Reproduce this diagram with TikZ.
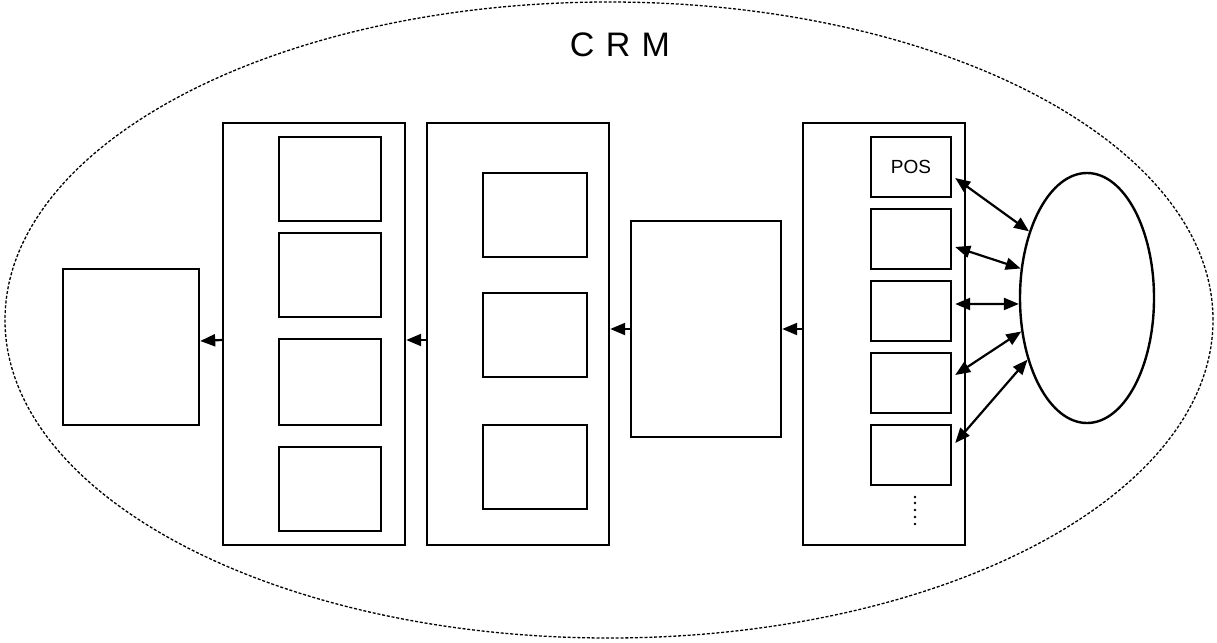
\documentclass[tikz,border=0pt]{standalone}
\usepackage{fontspec}
\setmainfont{Liberation Sans}
\usetikzlibrary{shapes.geometric,arrows.meta,calc}
\begin{document}
\begin{tikzpicture}[x=1pt,y=-1pt,
  box/.style={draw,line width=2.4pt,inner sep=0pt},
  tip/.style={-{Triangle[length=15pt,width=12pt]},line width=2.2pt},
  dtip/.style={{Triangle[length=15pt,width=12pt]}-{Triangle[length=15pt,width=12pt]},line width=2.2pt}]
\useasboundingbox (0,0) rectangle (1217,642);
% outer CRM ellipse
\node[ellipse,draw,line width=1.3pt,dash pattern=on 3pt off 1.8pt,minimum width=1208pt,minimum height=636pt,inner sep=0pt] (crm) at (609,320) {};
\node[font=\fontsize{34}{40}\selectfont] (title) at (620,45) {C\,\,R\,\,M};
% left box
\node[box,minimum width=136pt,minimum height=156pt] (b1) at (131,347) {};
% column 2
\node[box,minimum width=182pt,minimum height=422pt] (c2) at (314,334) {};
\node[box,minimum width=102pt,minimum height=84pt] (c2a) at (330,179) {};
\node[box,minimum width=102pt,minimum height=84pt] (c2b) at (330,275) {};
\node[box,minimum width=102pt,minimum height=86pt] (c2c) at (330,382) {};
\node[box,minimum width=102pt,minimum height=84pt] (c2d) at (330,489) {};
% column 3
\node[box,minimum width=182pt,minimum height=422pt] (c3) at (518,334) {};
\node[box,minimum width=104pt,minimum height=84pt] (c3a) at (535,215) {};
\node[box,minimum width=104pt,minimum height=84pt] (c3b) at (535,335) {};
\node[box,minimum width=104pt,minimum height=84pt] (c3c) at (535,467) {};
% middle box
\node[box,minimum width=150pt,minimum height=216pt] (mid) at (706,329) {};
% column 4
\node[box,minimum width=162pt,minimum height=422pt] (c4) at (884,334) {};
\node[box,minimum width=80pt,minimum height=60pt,font=\fontsize{19}{22}\selectfont] (pos) at (911,167) {POS};
\node[box,minimum width=80pt,minimum height=60pt] (s2) at (911,239) {};
\node[box,minimum width=80pt,minimum height=60pt] (s3) at (911,311) {};
\node[box,minimum width=80pt,minimum height=60pt] (s4) at (911,383) {};
\node[box,minimum width=80pt,minimum height=60pt] (s5) at (911,455) {};
\foreach \yy [count=\i] in {497,503,510,517,524} {\fill (915,\yy) circle (1.4pt) coordinate (dot\i);}
% right ellipse
\node[ellipse,draw,line width=2.4pt,minimum width=134pt,minimum height=250pt,inner sep=0pt] (ext) at (1087,298) {};
% arrows
\draw[tip] (c4.west |- mid.east) -- (mid.east);
\draw[tip] (mid.west) -- (c3.east |- mid.west);
\draw[tip] ([yshift=-6pt]c3.west) -- ([yshift=-6pt]c2.east);
\draw[tip] ([yshift=-6pt]c2.west) -- ([yshift=6pt]b1.east);
\draw[dtip] ([xshift=3pt,yshift=-11pt]pos.east) -- (ext.131);
\draw[dtip] ([xshift=3pt,yshift=-8pt]s2.east) -- (ext.156);
\draw[dtip] ([xshift=3pt,yshift=7pt]s3.east) -- (ext.185);
\draw[dtip] (ext.207) -- ([xshift=3pt,yshift=8pt]s4.east);
\draw[dtip] (ext.226) -- ([xshift=3pt,yshift=12pt]s5.east);
\end{tikzpicture}
\end{document}
